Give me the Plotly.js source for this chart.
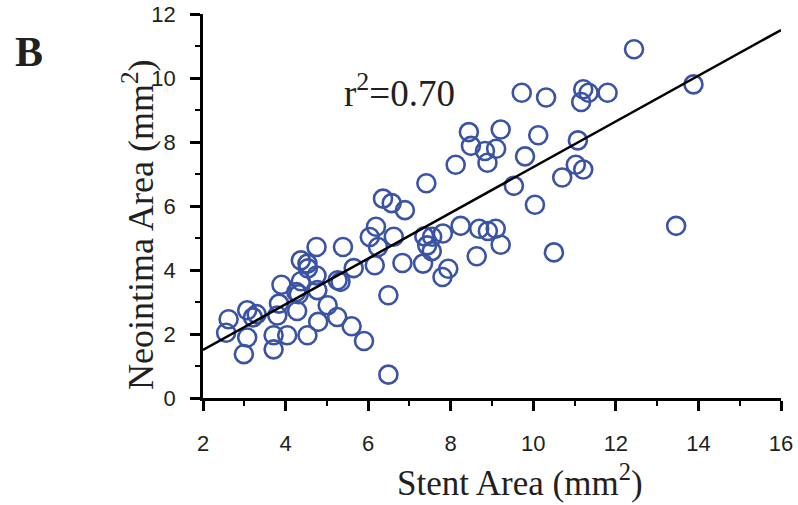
<!DOCTYPE html>
<html>
<head>
<meta charset="utf-8">
<script src="https://cdn.plot.ly/plotly-3.0.1.min.js"></script>
<style>html,body{margin:0;padding:0;background:#fff;}#chart{width:798px;height:505px;}</style>
</head>
<body>
<div id="chart"></div>
<script>
// Stent area (mm^2) for each observation
const stentArea = [
  2.62, 2.56, 3.07, 3.21, 3.30, 3.07, 2.99, 3.71, 3.71, 4.04,
  3.80, 3.84, 3.90, 4.28, 4.26, 4.32, 4.37, 4.37, 4.53, 4.54,
  4.75, 4.75, 4.77, 4.53, 5.02, 5.25, 4.79, 5.39, 5.26, 5.33,
  5.60, 5.65, 5.90, 6.16, 6.19, 6.04, 6.24, 6.62, 6.49, 6.49,
  6.36, 6.57, 6.89, 6.83, 7.41, 7.36, 7.55, 7.81, 7.43, 7.54,
  7.33, 7.94, 7.80, 8.12, 8.24, 8.63, 8.69, 8.90, 9.09, 9.21,
  8.44, 8.49, 8.83, 9.10, 8.89, 9.21, 9.53, 9.72, 9.80, 10.12,
  10.04, 10.31, 10.50, 10.70, 11.03, 11.21, 11.08, 11.21, 11.34, 11.16,
  11.80, 12.44, 13.46, 13.88
];
// Neointima area (mm^2) for each observation
const neointimaArea = [
  2.46, 2.04, 2.74, 2.52, 2.62, 1.89, 1.37, 1.96, 1.52, 1.96,
  2.58, 2.95, 3.54, 2.72, 3.31, 3.24, 3.65, 4.30, 4.20, 4.05,
  4.72, 3.83, 3.37, 1.96, 2.90, 2.53, 2.38, 4.72, 3.68, 3.63,
  2.24, 4.06, 1.78, 4.15, 5.35, 5.03, 4.72, 5.04, 3.21, 0.73,
  6.23, 6.09, 5.87, 4.22, 6.71, 5.05, 5.04, 5.14, 4.77, 4.59,
  4.20, 4.04, 3.78, 7.29, 5.38, 4.43, 5.29, 5.22, 5.29, 4.79,
  8.31, 7.88, 7.72, 7.79, 7.35, 8.39, 6.63, 9.54, 7.55, 8.21,
  6.04, 9.39, 4.55, 6.89, 7.29, 7.14, 8.05, 9.65, 9.54, 9.25,
  9.54, 10.90, 5.38, 9.80
];
// Regression line end points
const fitX = [2, 16];
const fitY = [1.5, 11.5];
const xTickVals = [2, 4, 6, 8, 10, 12, 14, 16];
const yTickVals = [0, 2, 4, 6, 8, 10, 12];
const fitLabel = 'r<sup>2</sup>=0.70';
const panelLabel = 'B';
const xTitle = 'Stent Area (mm<sup>2</sup>)';
const yTitle = 'Neointima Area (mm<sup>2</sup>)';

const serif = '"Liberation Serif", "DejaVu Serif", serif';
const sans = '"Liberation Sans", Arial, sans-serif';
const ink = '#231f20';

const traces = [
  {
    x: stentArea, y: neointimaArea, type: 'scatter', mode: 'markers',
    marker: {symbol: 'circle-open', size: 18, color: '#3a53a4', line: {width: 2.6, color: '#3a53a4'}},
    hoverinfo: 'x+y', showlegend: false
  },
  {
    x: fitX, y: fitY, type: 'scatter', mode: 'lines',
    line: {color: '#000', width: 2.5}, hoverinfo: 'skip', showlegend: false
  }
];

const axisCommon = {
  showgrid: false, zeroline: false, showline: true, linecolor: '#000', linewidth: 2.5,
  ticks: 'outside', ticklen: 10, tickwidth: 2.5, tickcolor: '#000',
  tickfont: {family: sans, size: 22, color: ink},
  minor: {dtick: 1, ticks: 'outside', ticklen: 5, tickwidth: 2, tickcolor: '#000'},
  fixedrange: true
};

// plot-area geometry (pixels) used to place paper-referenced labels
const L = 203, R = 17, T = 14, B = 107, W = 798, H = 505;
const pw = W - L - R, ph = H - T - B;
const px = v => (v - L) / pw;
const py = v => (H - B - v) / ph;

const layout = {
  width: W, height: H,
  margin: {l: L, r: R, t: T, b: B, pad: 0},
  paper_bgcolor: '#fff', plot_bgcolor: '#fff',
  xaxis: Object.assign({}, axisCommon, {range: [2, 16], tickvals: xTickVals, ticklabelstandoff: 14}),
  yaxis: Object.assign({}, axisCommon, {range: [0, 12], tickvals: yTickVals, ticklabelstandoff: 10}),
  annotations: [
    {x: 6.75, y: 9.6, xref: 'x', yref: 'y', text: fitLabel, showarrow: false,
     xanchor: 'center', yanchor: 'middle',
     font: {family: serif, size: 37, color: ink}},
    {x: px(29), y: py(52), xref: 'paper', yref: 'paper', text: '<b>' + panelLabel + '</b>', showarrow: false,
     xanchor: 'center', yanchor: 'middle',
     font: {family: serif, size: 42, color: ink}},
    {x: px(520), y: py(480), xref: 'paper', yref: 'paper', text: xTitle, showarrow: false,
     xanchor: 'center', yanchor: 'middle',
     font: {family: serif, size: 35, color: ink}},
    {x: px(138), y: py(225), xref: 'paper', yref: 'paper', text: yTitle, showarrow: false,
     textangle: -90, xanchor: 'center', yanchor: 'middle',
     font: {family: serif, size: 36, color: ink}}
  ]
};

Plotly.newPlot('chart', traces, layout, {staticPlot: false, displayModeBar: false});
</script>
</body>
</html>
